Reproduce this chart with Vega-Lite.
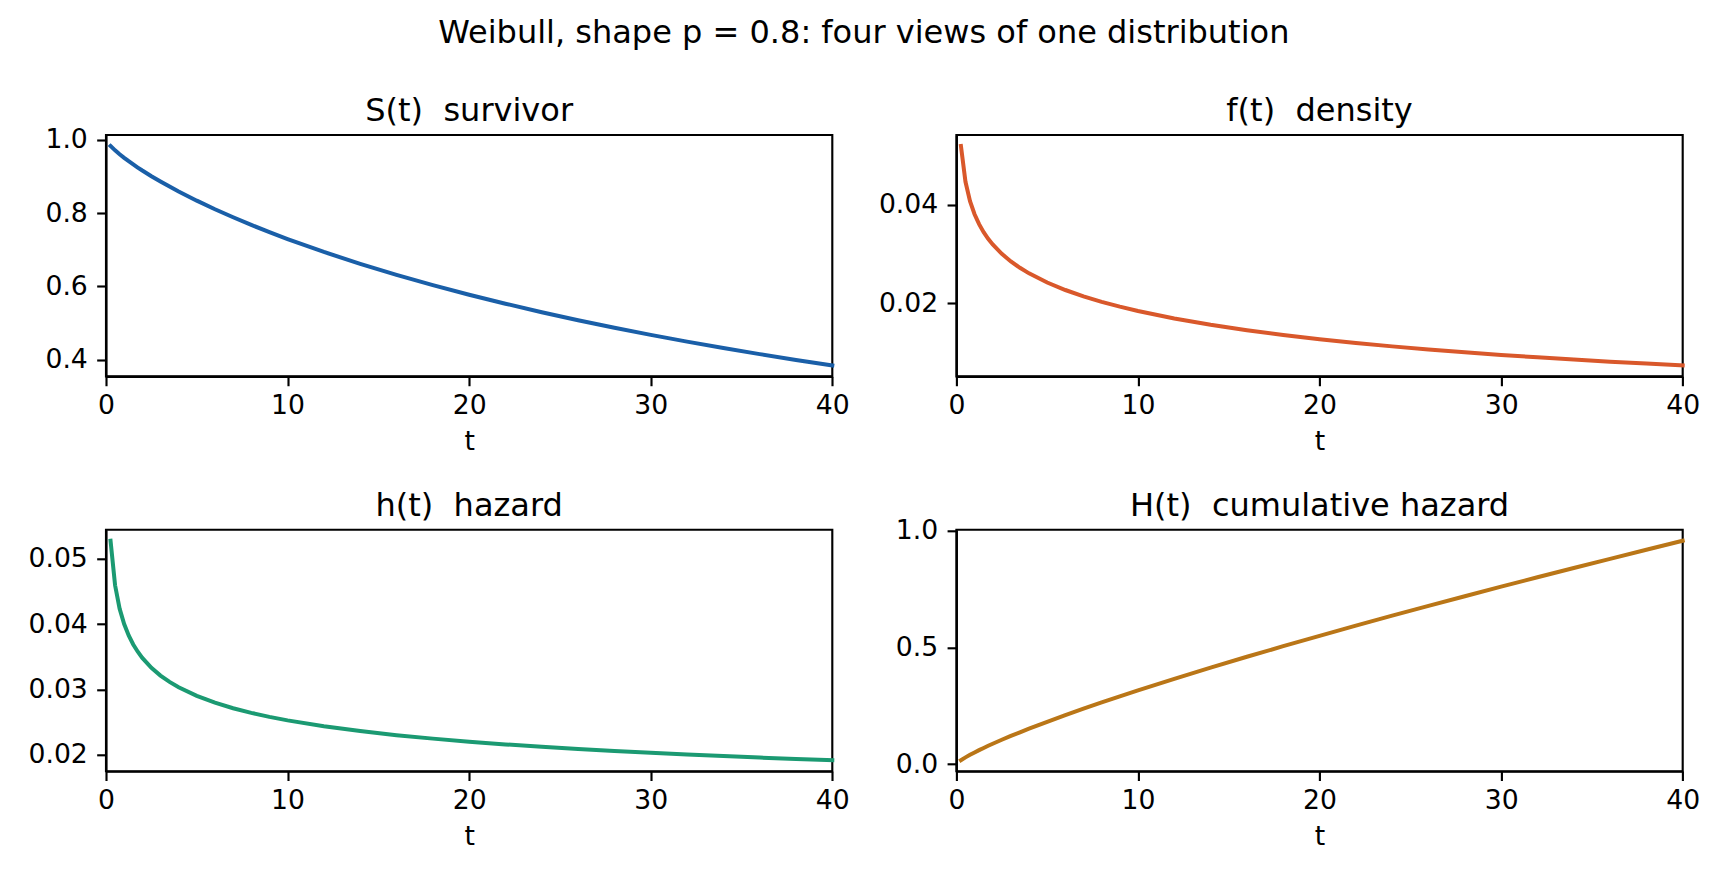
{
  "$schema": "https://vega.github.io/schema/vega-lite/v6.json",
  "background": "white",
  "padding": {"left": 26, "top": 16, "right": 10, "bottom": 10},
  "title": {"text": "Weibull, shape p = 0.8: four views of one distribution", "offset": 44.3, "anchor": "middle"},
  "data": {"values": [
    {"t": 0.25, "S": 0.98364, "f": 0.051917, "h": 0.052780, "H": 0.016494},
    {"t": 0.5, "S": 0.97169, "f": 0.044647, "h": 0.045948, "H": 0.028717},
    {"t": 0.75, "S": 0.96106, "f": 0.040719, "h": 0.042369, "H": 0.039721},
    {"t": 1, "S": 0.95123, "f": 0.038049, "h": 0.040000, "H": 0.050000},
    {"t": 1.25, "S": 0.94198, "f": 0.036034, "h": 0.038254, "H": 0.059772},
    {"t": 1.5, "S": 0.93318, "f": 0.034419, "h": 0.036884, "H": 0.069158},
    {"t": 1.75, "S": 0.92475, "f": 0.033074, "h": 0.035765, "H": 0.078235},
    {"t": 2, "S": 0.91663, "f": 0.031919, "h": 0.034822, "H": 0.087055},
    {"t": 2.5, "S": 0.90116, "f": 0.030011, "h": 0.033302, "H": 0.104069},
    {"t": 3, "S": 0.88656, "f": 0.028467, "h": 0.032110, "H": 0.120411},
    {"t": 3.5, "S": 0.87265, "f": 0.027170, "h": 0.031135, "H": 0.136215},
    {"t": 4, "S": 0.85936, "f": 0.026051, "h": 0.030314, "H": 0.151572},
    {"t": 5, "S": 0.83427, "f": 0.024186, "h": 0.028991, "H": 0.181195},
    {"t": 6, "S": 0.81087, "f": 0.022666, "h": 0.027953, "H": 0.209648},
    {"t": 7, "S": 0.78886, "f": 0.021381, "h": 0.027104, "H": 0.237164},
    {"t": 8, "S": 0.76805, "f": 0.020269, "h": 0.026390, "H": 0.263902},
    {"t": 9, "S": 0.74828, "f": 0.019288, "h": 0.025776, "H": 0.289977},
    {"t": 10, "S": 0.72944, "f": 0.018410, "h": 0.025238, "H": 0.315479},
    {"t": 12, "S": 0.69418, "f": 0.016893, "h": 0.024335, "H": 0.365018},
    {"t": 14, "S": 0.66171, "f": 0.015614, "h": 0.023596, "H": 0.412926},
    {"t": 16, "S": 0.63161, "f": 0.014511, "h": 0.022974, "H": 0.459479},
    {"t": 18, "S": 0.60358, "f": 0.013544, "h": 0.022439, "H": 0.504880},
    {"t": 20, "S": 0.57737, "f": 0.012685, "h": 0.021971, "H": 0.549280},
    {"t": 22, "S": 0.55278, "f": 0.011916, "h": 0.021556, "H": 0.592801},
    {"t": 24, "S": 0.52965, "f": 0.011220, "h": 0.021184, "H": 0.635534},
    {"t": 26, "S": 0.50785, "f": 0.010588, "h": 0.020848, "H": 0.677561},
    {"t": 28, "S": 0.48727, "f": 0.010009, "h": 0.020541, "H": 0.718946},
    {"t": 30, "S": 0.46779, "f": 0.009477, "h": 0.020260, "H": 0.759744},
    {"t": 32, "S": 0.44933, "f": 0.008987, "h": 0.020000, "H": 0.800000},
    {"t": 34, "S": 0.43182, "f": 0.008532, "h": 0.019759, "H": 0.839756},
    {"t": 36, "S": 0.41518, "f": 0.008110, "h": 0.019534, "H": 0.879046},
    {"t": 38, "S": 0.39936, "f": 0.007717, "h": 0.019324, "H": 0.917903},
    {"t": 40, "S": 0.38429, "f": 0.007350, "h": 0.019127, "H": 0.956352}
  ]},
  "columns": 2,
  "spacing": {"row": 152.8, "column": 123.4},
  "bounds": "flush",
  "concat": [
    {
      "width": 726.3, "height": 241.4,
      "title": {"text": "S(t)\u00a0 survivor", "dy": 8},
      "mark": {"type": "line", "color": "#1a5fa8", "strokeWidth": 4, "strokeCap": "square"},
      "encoding": {
        "x": {"field": "t", "type": "quantitative", "scale": {"domain": [0, 40], "nice": false, "zero": false}, "axis": {"values": [0, 10, 20, 30, 40], "title": "t"}},
        "y": {"field": "S", "type": "quantitative", "scale": {"domain": [0.3543, 1.0136], "nice": false, "zero": false}, "axis": {"values": [0.4, 0.6, 0.8, 1.0], "format": ".1f", "title": null}}
      }
    },
    {
      "width": 726.3, "height": 241.4,
      "title": {"text": "f(t)\u00a0 density"},
      "mark": {"type": "line", "color": "#d9582b", "strokeWidth": 4, "strokeCap": "square"},
      "encoding": {
        "x": {"field": "t", "type": "quantitative", "scale": {"domain": [0, 40], "nice": false, "zero": false}, "axis": {"values": [0, 10, 20, 30, 40], "title": "t"}},
        "y": {"field": "f", "type": "quantitative", "scale": {"domain": [0.005122, 0.054145], "nice": false, "zero": false}, "axis": {"values": [0.02, 0.04], "format": ".2f", "title": null}}
      }
    },
    {
      "width": 726.3, "height": 241.4,
      "title": {"text": "h(t)\u00a0 hazard"},
      "mark": {"type": "line", "color": "#1b9a72", "strokeWidth": 4, "strokeCap": "square"},
      "encoding": {
        "x": {"field": "t", "type": "quantitative", "scale": {"domain": [0, 40], "nice": false, "zero": false}, "axis": {"values": [0, 10, 20, 30, 40], "title": "t"}},
        "y": {"field": "h", "type": "quantitative", "scale": {"domain": [0.017444, 0.054463], "nice": false, "zero": false}, "axis": {"values": [0.02, 0.03, 0.04, 0.05], "format": ".2f", "title": null}}
      }
    },
    {
      "width": 726.3, "height": 241.4,
      "title": {"text": "H(t)\u00a0 cumulative hazard", "dy": 12.2},
      "mark": {"type": "line", "color": "#ba7617", "strokeWidth": 4, "strokeCap": "square"},
      "encoding": {
        "x": {"field": "t", "type": "quantitative", "scale": {"domain": [0, 40], "nice": false, "zero": false}, "axis": {"values": [0, 10, 20, 30, 40], "title": "t"}},
        "y": {"field": "H", "type": "quantitative", "scale": {"domain": [-0.030499, 1.003345], "nice": false, "zero": false}, "axis": {"values": [0, 0.5, 1.0], "format": ".1f", "title": null}}
      }
    }
  ],
  "config": {
    "view": {"stroke": "black", "strokeWidth": 2.13},
    "axis": {"domainColor": "black", "domainWidth": 2.13, "tickColor": "black", "tickWidth": 2.13, "tickSize": 9.33, "labelFont": "DejaVu Sans", "labelFontSize": 26.67, "labelColor": "black", "grid": false, "titleFont": "DejaVu Sans", "titleFontSize": 26.67, "titleFontWeight": "normal", "titleColor": "black", "titlePadding": 9.5, "labelFlush": false, "labelOverlap": false},
    "axisX": {"labelPadding": 6.7},
    "axisY": {"labelPadding": 9.33},
    "title": {"font": "DejaVu Sans", "fontSize": 32, "fontWeight": "normal", "color": "black", "anchor": "middle", "offset": 6.7}
  }
}
